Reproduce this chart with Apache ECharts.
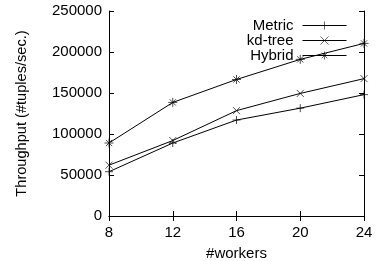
<!DOCTYPE html>
<html>
<head>
<meta charset="utf-8">
<script src="https://cdn.jsdelivr.net/npm/echarts@6/dist/echarts.min.js"></script>
<style>
html,body{margin:0;padding:0;background:#fff;}
#c{width:380px;height:261px;}
</style>
</head>
<body>
<div id="c"></div>
<script>
const workers = [8, 12, 16, 20, 24];
const metric = [54000, 89000, 117000, 131500, 148000];
const kdtree = [62000, 92000, 128500, 149500, 167500];
const hybrid = [89000, 138500, 166500, 191000, 210500];
const yTicks = [0, 50000, 100000, 150000, 200000, 250000];
const seriesNames = ['Metric', 'kd-tree', 'Hybrid'];

const PLUS = 'path://M0,5L10,5M5,0L5,10';
const CROSS = 'path://M0,0L10,10M10,0L0,10';
const STAR = 'path://M0,5L10,5M5,0L5,10M1.5,1.5L8.5,8.5M8.5,1.5L1.5,8.5';

const font = 'Liberation Sans, Arial, sans-serif';
const fs = 15;

function mk(name, data, sym, size) {
  return {
    name: name,
    type: 'line',
    data: workers.map((w, i) => [w, data[i]]),
    symbol: sym,
    symbolSize: size,
    showAllSymbol: true,
    lineStyle: { color: '#000', width: 1 },
    itemStyle: { color: '#000', borderColor: '#000', borderWidth: 0.7 },
    animation: false
  };
}

const chart = echarts.init(document.getElementById('c'), null, { renderer: 'canvas' });
chart.setOption({
  animation: false,
  backgroundColor: '#fff',
  grid: { left: 109, right: 16, top: 11, bottom: 45, containLabel: false, outerBoundsMode: 'none' },
  legend: {
    orient: 'vertical',
    right: 33,
    top: 18,
    padding: 0,
    align: 'right',
    itemWidth: 44,
    itemHeight: 10,
    itemGap: 0,
    data: seriesNames,
    itemStyle: { color: '#000', borderColor: '#000', borderWidth: 0.6 },
    lineStyle: { color: '#000', width: 1 },
    textStyle: { fontFamily: font, fontSize: fs, color: '#000', lineHeight: 15, padding: [0, 4, 0, 0] },
    inactiveColor: '#000'
  },
  xAxis: [{
    type: 'value', min: 8, max: 24, interval: 4,
    name: '#workers', nameLocation: 'middle', nameGap: 30,
    nameTextStyle: { fontFamily: font, fontSize: fs, color: '#000' },
    axisLine: { show: true, lineStyle: { color: '#000', width: 1 } },
    axisTick: { show: true, inside: true, length: 5, lineStyle: { color: '#000' } },
    axisLabel: { fontFamily: font, fontSize: fs, color: '#000', margin: 9 },
    splitLine: { show: false }
  }, {
    type: 'value', min: 8, max: 24, interval: 4, position: 'top',
    axisLine: { show: true, lineStyle: { color: '#000', width: 1 } },
    axisTick: { show: true, inside: true, length: 5, lineStyle: { color: '#000' } },
    axisLabel: { show: false },
    splitLine: { show: false }
  }],
  yAxis: [{
    type: 'value', min: yTicks[0], max: yTicks[yTicks.length - 1], interval: 50000,
    name: 'Throughput (#tuples/sec.)', nameLocation: 'middle', nameGap: 80,
    nameTextStyle: { fontFamily: font, fontSize: 14.6, color: '#000' },
    axisLine: { show: true, lineStyle: { color: '#000', width: 1 } },
    axisTick: { show: true, inside: true, length: 5, lineStyle: { color: '#000' } },
    axisLabel: { fontFamily: font, fontSize: fs, color: '#000', margin: 7, formatter: v => String(v) },
    splitLine: { show: false }
  }, {
    type: 'value', min: yTicks[0], max: yTicks[yTicks.length - 1], interval: 50000, position: 'right',
    axisLine: { show: true, lineStyle: { color: '#000', width: 1 } },
    axisTick: { show: true, inside: true, length: 5, lineStyle: { color: '#000' } },
    axisLabel: { show: false },
    splitLine: { show: false }
  }],
  series: [
    mk('Metric', metric, PLUS, 8),
    mk('kd-tree', kdtree, CROSS, 7),
    mk('Hybrid', hybrid, STAR, 9)
  ]
});
</script>
</body>
</html>
